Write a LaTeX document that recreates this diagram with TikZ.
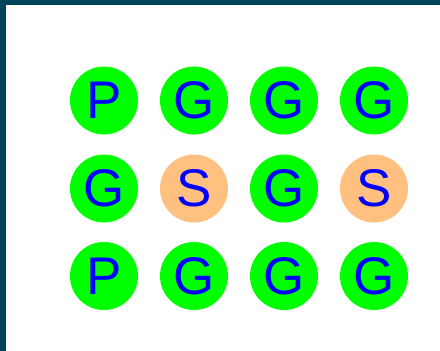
\documentclass[tikz,border=0pt]{standalone}
\usepackage{fontspec}
\setmainfont{Liberation Sans}
\usepackage{xcolor}
\usepackage{tikz}
\definecolor{framecol}{RGB}{0,68,92}
\definecolor{grassgreen}{RGB}{0,255,0}
\definecolor{sandorange}{RGB}{255,192,128}
\tikzset{
  cell/.style={circle,minimum size=68pt,inner sep=0pt,text=blue,
    font=\fontsize{53}{53}\selectfont},
  cellP/.style={cell,fill=grassgreen},
  cellG/.style={cell,fill=grassgreen},
  cellS/.style={cell,fill=sandorange}
}

\begin{document}
\begin{tikzpicture}[x=1pt,y=-1pt]
  \useasboundingbox (0,0) rectangle (440,351);

  % Frame along top and left edge
  \fill[framecol] (0,0) rectangle (440,5);
  \fill[framecol] (0,0) rectangle (6,351);

  % Grid of tiles, one row at a time
  \foreach \r/\y/\tiles in {1/100.5/{P,G,G,G},2/188.5/{G,S,G,S},3/276/{P,G,G,G}}{
    \foreach \t [count=\c] in \tiles{
      \pgfmathsetmacro\x{14+90*\c}
      \node[cell\t] (tile\r\c) at (\x,\y) {\t};
    }
  }
\end{tikzpicture}
\end{document}
